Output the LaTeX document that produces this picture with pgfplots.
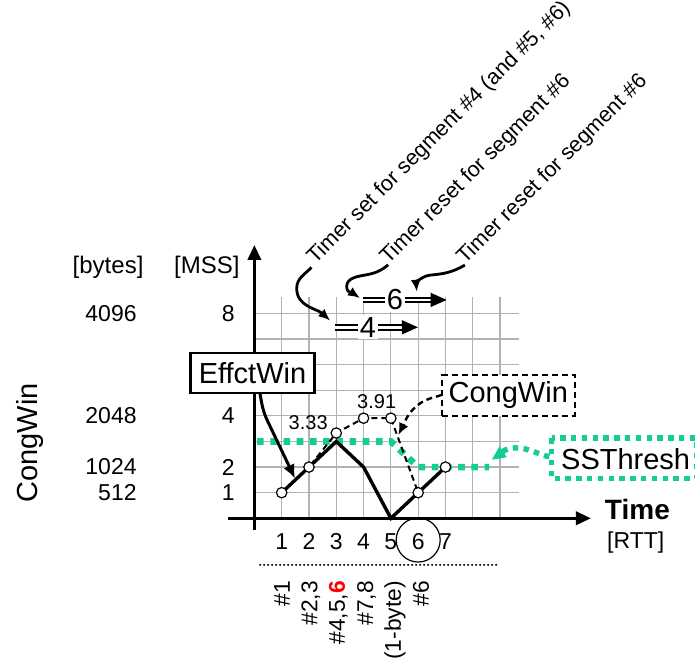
\documentclass[border=0pt]{standalone}
\usepackage{pgfplots}
\pgfplotsset{compat=1.18}
\usepackage{fontspec}
\setmainfont{Liberation Sans}
\usetikzlibrary{arrows.meta}
\definecolor{ssteal}{RGB}{20,204,150}
\newcommand{\fs}[1]{\fontsize{#1}{#1}\selectfont}

\begin{document}
\begin{tikzpicture}
\begin{axis}[
  x=13.65pt, y=12.8pt,
  xmin=0, xmax=9.7, ymin=0, ymax=8.63,
  axis line style={draw=none},
  tick style={draw=none},
  grid=major,
  grid style={gray!60, line width=0.6pt},
  xtick={1,...,9}, xticklabels={1,2,3,4,5,6,7,,},
  ytick={1,...,8}, yticklabels={1,2,,4,,,,8},
  xticklabel style={anchor=center, yshift=-11.6pt, font=\fs{11.5}},
  yticklabel style={anchor=east, inner sep=0pt, xshift=-9.7pt, font=\fs{11.5}},
  clip=false,
]
% axes
\draw[line width=1.7pt, -{Triangle[length=7.5pt,width=6.5pt]}] (0,-0.46) -- (0,10.68);
\draw[line width=1.7pt, -{Triangle[length=7.5pt,width=6.5pt]}] (-0.97,0) -- (12.33,0);

% SSThresh
\addplot[ssteal, line width=3.3pt, dash pattern=on 3.3pt off 3.3pt]
  coordinates {(0.1,3) (5,3) (6,2) (8.6,2)};
% EffctWin
\addplot[black, line width=1.7pt]
  coordinates {(1,1) (2,2) (3,3) (4,2) (5,0) (6,1) (7,2)};
% CongWin
\addplot[black, line width=1pt, dash pattern=on 3pt off 2pt,
  mark=*, mark size=2.6pt, mark options={solid, fill=white, draw=black, line width=0.6pt}]
  coordinates {(1,1) (2,2) (3,3.33) (4,3.91) (5,3.91) (6,1) (7,2)};

\node[font=\fs{10}] at (1.97,3.73) {3.33};
\node[font=\fs{10}] at (4.48,4.55) {3.91};

% left labels
\node[font=\fs{12}] at (-5.36,9.82) {[bytes]};
\node[font=\fs{12}] at (-1.74,9.82) {[MSS]};
\node[anchor=east, inner sep=0pt, font=\fs{11.5}] at (-4.30,8) {4096};
\node[anchor=east, inner sep=0pt, font=\fs{11.5}] at (-4.30,4) {2048};
\node[anchor=east, inner sep=0pt, font=\fs{11.5}] at (-4.30,2) {1024};
\node[anchor=east, inner sep=0pt, font=\fs{11.5}] at (-4.30,1) {512};
\node[rotate=90, font=\fs{14.5}] at (-8.22,2.94) {CongWin};

% time axis labels
\node[font=\fs{14}\bfseries] at (14.03,0.36) {Time};
\node[font=\fs{11.5}] at (13.97,-0.93) {[RTT]};
\draw[line width=0.6pt] (6,-0.85) circle[radius=11pt];
\draw[line width=1.2pt, line cap=round, dash pattern=on 0pt off 2pt] (0.21,-1.82) -- (8.92,-1.82);
\node[rotate=90, anchor=east, font=\fs{11.4}] at (1.01,-2.18) {\#1};
\node[rotate=90, anchor=east, font=\fs{11.4}] at (2.07,-2.18) {\#2,3};
\node[rotate=90, anchor=east, font=\fs{11.4}] at (3.08,-2.18) {\#4,5,{\color{red}\bfseries 6}};
\node[rotate=90, anchor=east, font=\fs{11.4}] at (4.11,-2.18) {\#7,8};
\node[rotate=90, anchor=east, font=\fs{11.4}] at (5.15,-2.18) {(1-byte)};
\node[rotate=90, anchor=east, font=\fs{11.4}] at (6.10,-2.18) {\#6};

% EffctWin label
\draw[line width=1.5pt, -{Latex[length=7pt,width=6pt]}] (0.2,4.9) to[out=-80,in=116] (0.5,3.76) -- (1.49,1.55);
\node[draw, line width=1.2pt, fill=white, font=\fs{14.5}, minimum width=62pt, minimum height=20pt] at (-0.07,5.68) {EffctWin};

% CongWin label
\draw[line width=1.2pt, dash pattern=on 3pt off 2pt, -{Latex[length=6pt,width=5pt]}]
  (6.86,4.82) to[out=200,in=35] (6.07,4.49) to[out=215,in=63] (5.27,3.25);
\node[draw, line width=1pt, dash pattern=on 3pt off 2pt, fill=white, font=\fs{14.5}, minimum width=66pt, minimum height=18.5pt] at (9.30,4.80) {CongWin};

% SSThresh label
\draw[ssteal, line width=2.7pt, dash pattern=on 2.7pt off 2.7pt] (10.89,3.13) rectangle (16.2,1.56);
\node[font=\fs{14.5}] at (13.6,2.32) {SSThresh};
\draw[ssteal, line width=2.7pt, dash pattern=on 2.7pt off 2.7pt, -{Triangle[length=7pt,width=6pt]}]
  (10.8,2.4) to[out=166,in=0] (9.55,2.75) to[out=180,in=35] (8.69,2.28);

% timers
\draw[line width=1pt, double, double distance=1.3pt] (2.95,7.46) -- (5.55,7.46);
\fill (5.99,7.46) -- ++(-8pt,3.6pt) -- ++(0,-7.2pt) -- cycle;
\node[fill=white, inner sep=1pt, font=\fs{14.5}] at (4.16,7.46) {4};
\draw[line width=1pt, double, double distance=1.3pt] (3.97,8.53) -- (6.6,8.53);
\fill (7.04,8.53) -- ++(-8pt,3.6pt) -- ++(0,-7.2pt) -- cycle;
\node[fill=white, inner sep=1pt, font=\fs{14.5}] at (5.15,8.53) {6};

\draw[line width=1.4pt, -{Latex[length=6pt,width=5pt]}] (2.09,9.8) to[out=-134,in=90] (1.55,8.98) to[out=-90,in=138] (2.78,7.72);
\draw[line width=1.4pt, -{Latex[length=6pt,width=5pt]}] (4.9,9.9) to[out=-140,in=10] (4.05,9.5) to[out=190,in=90] (3.38,9.05) to[out=-90,in=146] (3.87,8.6);
\draw[line width=1.4pt, -{Latex[length=6pt,width=5pt]}] (7.71,9.89) to[out=-150,in=5] (6.45,9.5) to[out=185,in=95] (5.95,8.85);

\node[rotate=45, anchor=base west, inner sep=0pt, font=\fs{10.8}] at (2.22,9.89) {Timer set for segment \#4 (and \#5, \#6)};
\node[rotate=45, anchor=base west, inner sep=0pt, font=\fs{10.8}] at (4.9,9.89) {Timer reset for segment \#6};
\node[rotate=45, anchor=base west, inner sep=0pt, font=\fs{10.8}] at (7.71,9.89) {Timer reset for segment \#6};

\coordinate (BL) at (-9.319,-5.496);
\coordinate (TR) at (16.14,20.246);
\end{axis}
\pgfresetboundingbox
\useasboundingbox (BL) rectangle (TR);
\end{tikzpicture}
\end{document}
